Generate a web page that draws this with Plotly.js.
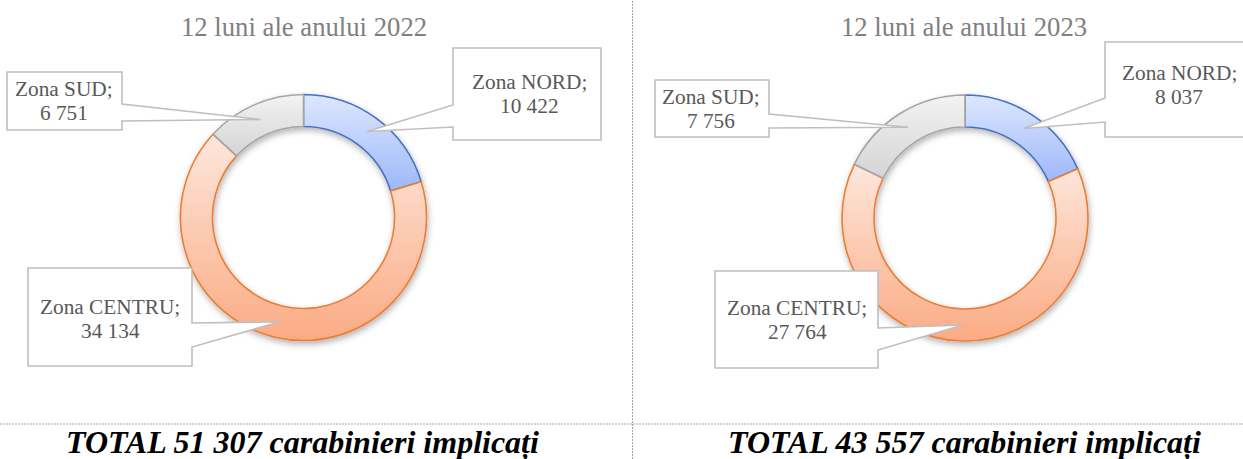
<!DOCTYPE html>
<html>
<head>
<meta charset="utf-8">
<script src="https://cdn.plot.ly/plotly-3.0.1.min.js"></script>
<style>html,body{margin:0;padding:0;background:#fff;}#chart{width:1243px;height:459px;}</style>
</head>
<body>
<div id="chart"></div>
<script>
// ---- data ----
const zones = ['Zona NORD', 'Zona CENTRU', 'Zona SUD'];
const values2022 = [10422, 34134, 6751];
const values2023 = [8037, 27764, 7756];
const subtitles = ['12 luni ale anului 2022', '12 luni ale anului 2023'];
const totalPrefix = 'TOTAL';
const totalSuffix = 'carabinieri implicați';

// ---- styling / layout ----
const W = 1243, H = 459;
const lineColors = ['#4472c4', '#ed7d31', '#a5a5a5'];
const midColors = ['#c0d1fb', '#fcc8ae', '#e4e4e4'];
const gradTop = ['#dde7fe', '#fde7dc', '#f3f3f3'];
const gradBot = ['#9db8f9', '#fbab84', '#d4d4d4'];
const R_OUT = 123, HOLE = 0.74;
const serif = 'Liberation Serif';

const panels = [
  { values: values2022, cx: 303.5, cy: 217.5, titleX: 304, totalX: 302,
    boxes: [
      {x0: 453, y0: 48, x1: 601, y1: 140, side: 'left', b0: 105, b1: 127, tx: 529, ty: [89, 113]},
      {x0: 28, y0: 268, x1: 192, y1: 366, side: 'right', b0: 323, b1: 347, tx: 110, ty: [314, 338]},
      {x0: 7, y0: 72, x1: 122, y1: 130, side: 'right', b0: 104, b1: 121, tx: 64, ty: [96, 120]}
    ]},
  { values: values2023, cx: 965, cy: 218, titleX: 964, totalX: 964,
    boxes: [
      {x0: 1105, y0: 42, x1: 1260, y1: 137, side: 'left', b0: 98, b1: 122, tx: 1179, ty: [80, 104]},
      {x0: 715, y0: 271, x1: 878, y1: 368, side: 'right', b0: 328, b1: 350, tx: 797, ty: [315, 339]},
      {x0: 655, y0: 80, x1: 769, y1: 137, side: 'right', b0: 114, b1: 128, tx: 711, ty: [104, 128]}
    ]}
];

const px = x => x / W;
const py = y => 1 - y / H;
const fmt = v => String(v).replace(/\B(?=(\d{3})+(?!\d))/g, ' ');

const traces = [];
const shapes = [];
const annotations = [];

panels.forEach((p, pi) => {
  traces.push({
    type: 'pie',
    labels: zones,
    values: p.values,
    sort: false,
    direction: 'clockwise',
    rotation: 0,
    hole: HOLE,
    textinfo: 'none',
    hoverinfo: 'label+value',
    showlegend: false,
    marker: { colors: midColors, line: { color: lineColors, width: 1.6 } },
    domain: {
      x: [px(p.cx - R_OUT), px(p.cx + R_OUT)],
      y: [py(p.cy + R_OUT), py(p.cy - R_OUT)]
    }
  });

  // subtitle
  annotations.push({
    xref: 'paper', yref: 'paper', x: px(p.titleX), y: py(27),
    xanchor: 'center', yanchor: 'middle', showarrow: false,
    text: subtitles[pi], font: { family: serif, size: 26.7, color: '#808080' }
  });
  // total
  const total = p.values.reduce((a, b) => a + b, 0);
  annotations.push({
    xref: 'paper', yref: 'paper', x: px(p.totalX), y: py(442),
    xanchor: 'center', yanchor: 'middle', showarrow: false,
    text: totalPrefix + ' ' + fmt(total) + ' ' + totalSuffix,
    font: { family: serif, size: 32, color: '#000000', weight: 'bold', style: 'italic' }
  });

  // callouts: tip at the middle of each slice (mid-angle, mid-radius)
  let cum = 0;
  const rMid = R_OUT * (1 + HOLE) / 2;
  p.values.forEach((v, i) => {
    const ang = (cum + v / 2) / total * 2 * Math.PI;
    cum += v;
    const tx = p.cx + rMid * Math.sin(ang);
    const ty = p.cy - rMid * Math.cos(ang);
    const b = p.boxes[i];
    let pts;
    if (b.side === 'left') {
      pts = [[b.x0, b.y0], [b.x1, b.y0], [b.x1, b.y1], [b.x0, b.y1], [b.x0, b.b1], [tx, ty], [b.x0, b.b0]];
    } else {
      pts = [[b.x0, b.y0], [b.x1, b.y0], [b.x1, b.b0], [tx, ty], [b.x1, b.b1], [b.x1, b.y1], [b.x0, b.y1]];
    }
    const path = 'M' + pts.map(q => px(q[0]).toFixed(5) + ',' + py(q[1]).toFixed(5)).join(' L') + ' Z';
    shapes.push({
      type: 'path', xref: 'paper', yref: 'paper', path: path, layer: 'above',
      fillcolor: '#ffffff', line: { color: '#bfbfbf', width: 1.6 }
    });
    annotations.push({
      xref: 'paper', yref: 'paper', x: px(b.tx), y: py(b.ty[0] - 7),
      xanchor: 'center', yanchor: 'middle', showarrow: false,
      text: zones[i] + ';', font: { family: serif, size: 21.3, color: '#595959' }
    });
    annotations.push({
      xref: 'paper', yref: 'paper', x: px(b.tx), y: py(b.ty[1] - 7),
      xanchor: 'center', yanchor: 'middle', showarrow: false,
      text: fmt(v), font: { family: serif, size: 21.3, color: '#595959' }
    });
  });
});

// dotted separators
shapes.push({ type: 'line', xref: 'paper', yref: 'paper', x0: 0, x1: 1, y0: py(424), y1: py(424),
  layer: 'below', line: { color: '#a6a6a6', width: 1, dash: '2px,1px' } });
shapes.push({ type: 'line', xref: 'paper', yref: 'paper', x0: px(632.5), x1: px(632.5), y0: 0, y1: 1,
  layer: 'below', line: { color: '#a6a6a6', width: 1, dash: '2px,1px' } });

const layout = {
  width: W, height: H, autosize: false,
  margin: { l: 0, r: 0, t: 0, b: 0, pad: 0 },
  paper_bgcolor: '#ffffff', plot_bgcolor: '#ffffff',
  showlegend: false,
  font: { family: serif },
  shapes: shapes, annotations: annotations
};

Plotly.newPlot('chart', traces, layout, { displayModeBar: false, staticPlot: true }).then(gd => {
  // vertical gradient fill per slice (bounding box of each slice) + soft shadow
  const svg = gd.querySelector('svg.main-svg');
  const NS = 'http://www.w3.org/2000/svg';
  let defs = svg.querySelector('defs');
  if (!defs) { defs = document.createElementNS(NS, 'defs'); svg.insertBefore(defs, svg.firstChild); }
  gradTop.forEach((c, i) => {
    const lg = document.createElementNS(NS, 'linearGradient');
    lg.setAttribute('id', 'sliceGrad' + i);
    lg.setAttribute('x1', '0'); lg.setAttribute('y1', '0');
    lg.setAttribute('x2', '0'); lg.setAttribute('y2', '1');
    [[0, gradTop[i]], [1, gradBot[i]]].forEach(s => {
      const st = document.createElementNS(NS, 'stop');
      st.setAttribute('offset', s[0]);
      st.setAttribute('stop-color', s[1]);
      lg.appendChild(st);
    });
    defs.appendChild(lg);
  });
  const f = document.createElementNS(NS, 'filter');
  f.setAttribute('id', 'ringShadow');
  f.setAttribute('x', '-20%'); f.setAttribute('y', '-20%');
  f.setAttribute('width', '140%'); f.setAttribute('height', '140%');
  const ds = document.createElementNS(NS, 'feDropShadow');
  ds.setAttribute('dx', '1'); ds.setAttribute('dy', '3');
  ds.setAttribute('stdDeviation', '3');
  ds.setAttribute('flood-color', '#000'); ds.setAttribute('flood-opacity', '0.3');
  f.appendChild(ds);
  defs.appendChild(f);

  gd.querySelectorAll('.pielayer g.trace').forEach(tr => {
    tr.setAttribute('filter', 'url(#ringShadow)');
    tr.querySelectorAll('g.slice').forEach((sl, i) => {
      const path = sl.querySelector('path.surface');
      if (path) path.style.fill = 'url(#sliceGrad' + i + ')';
    });
  });
});
</script>
</body>
</html>
